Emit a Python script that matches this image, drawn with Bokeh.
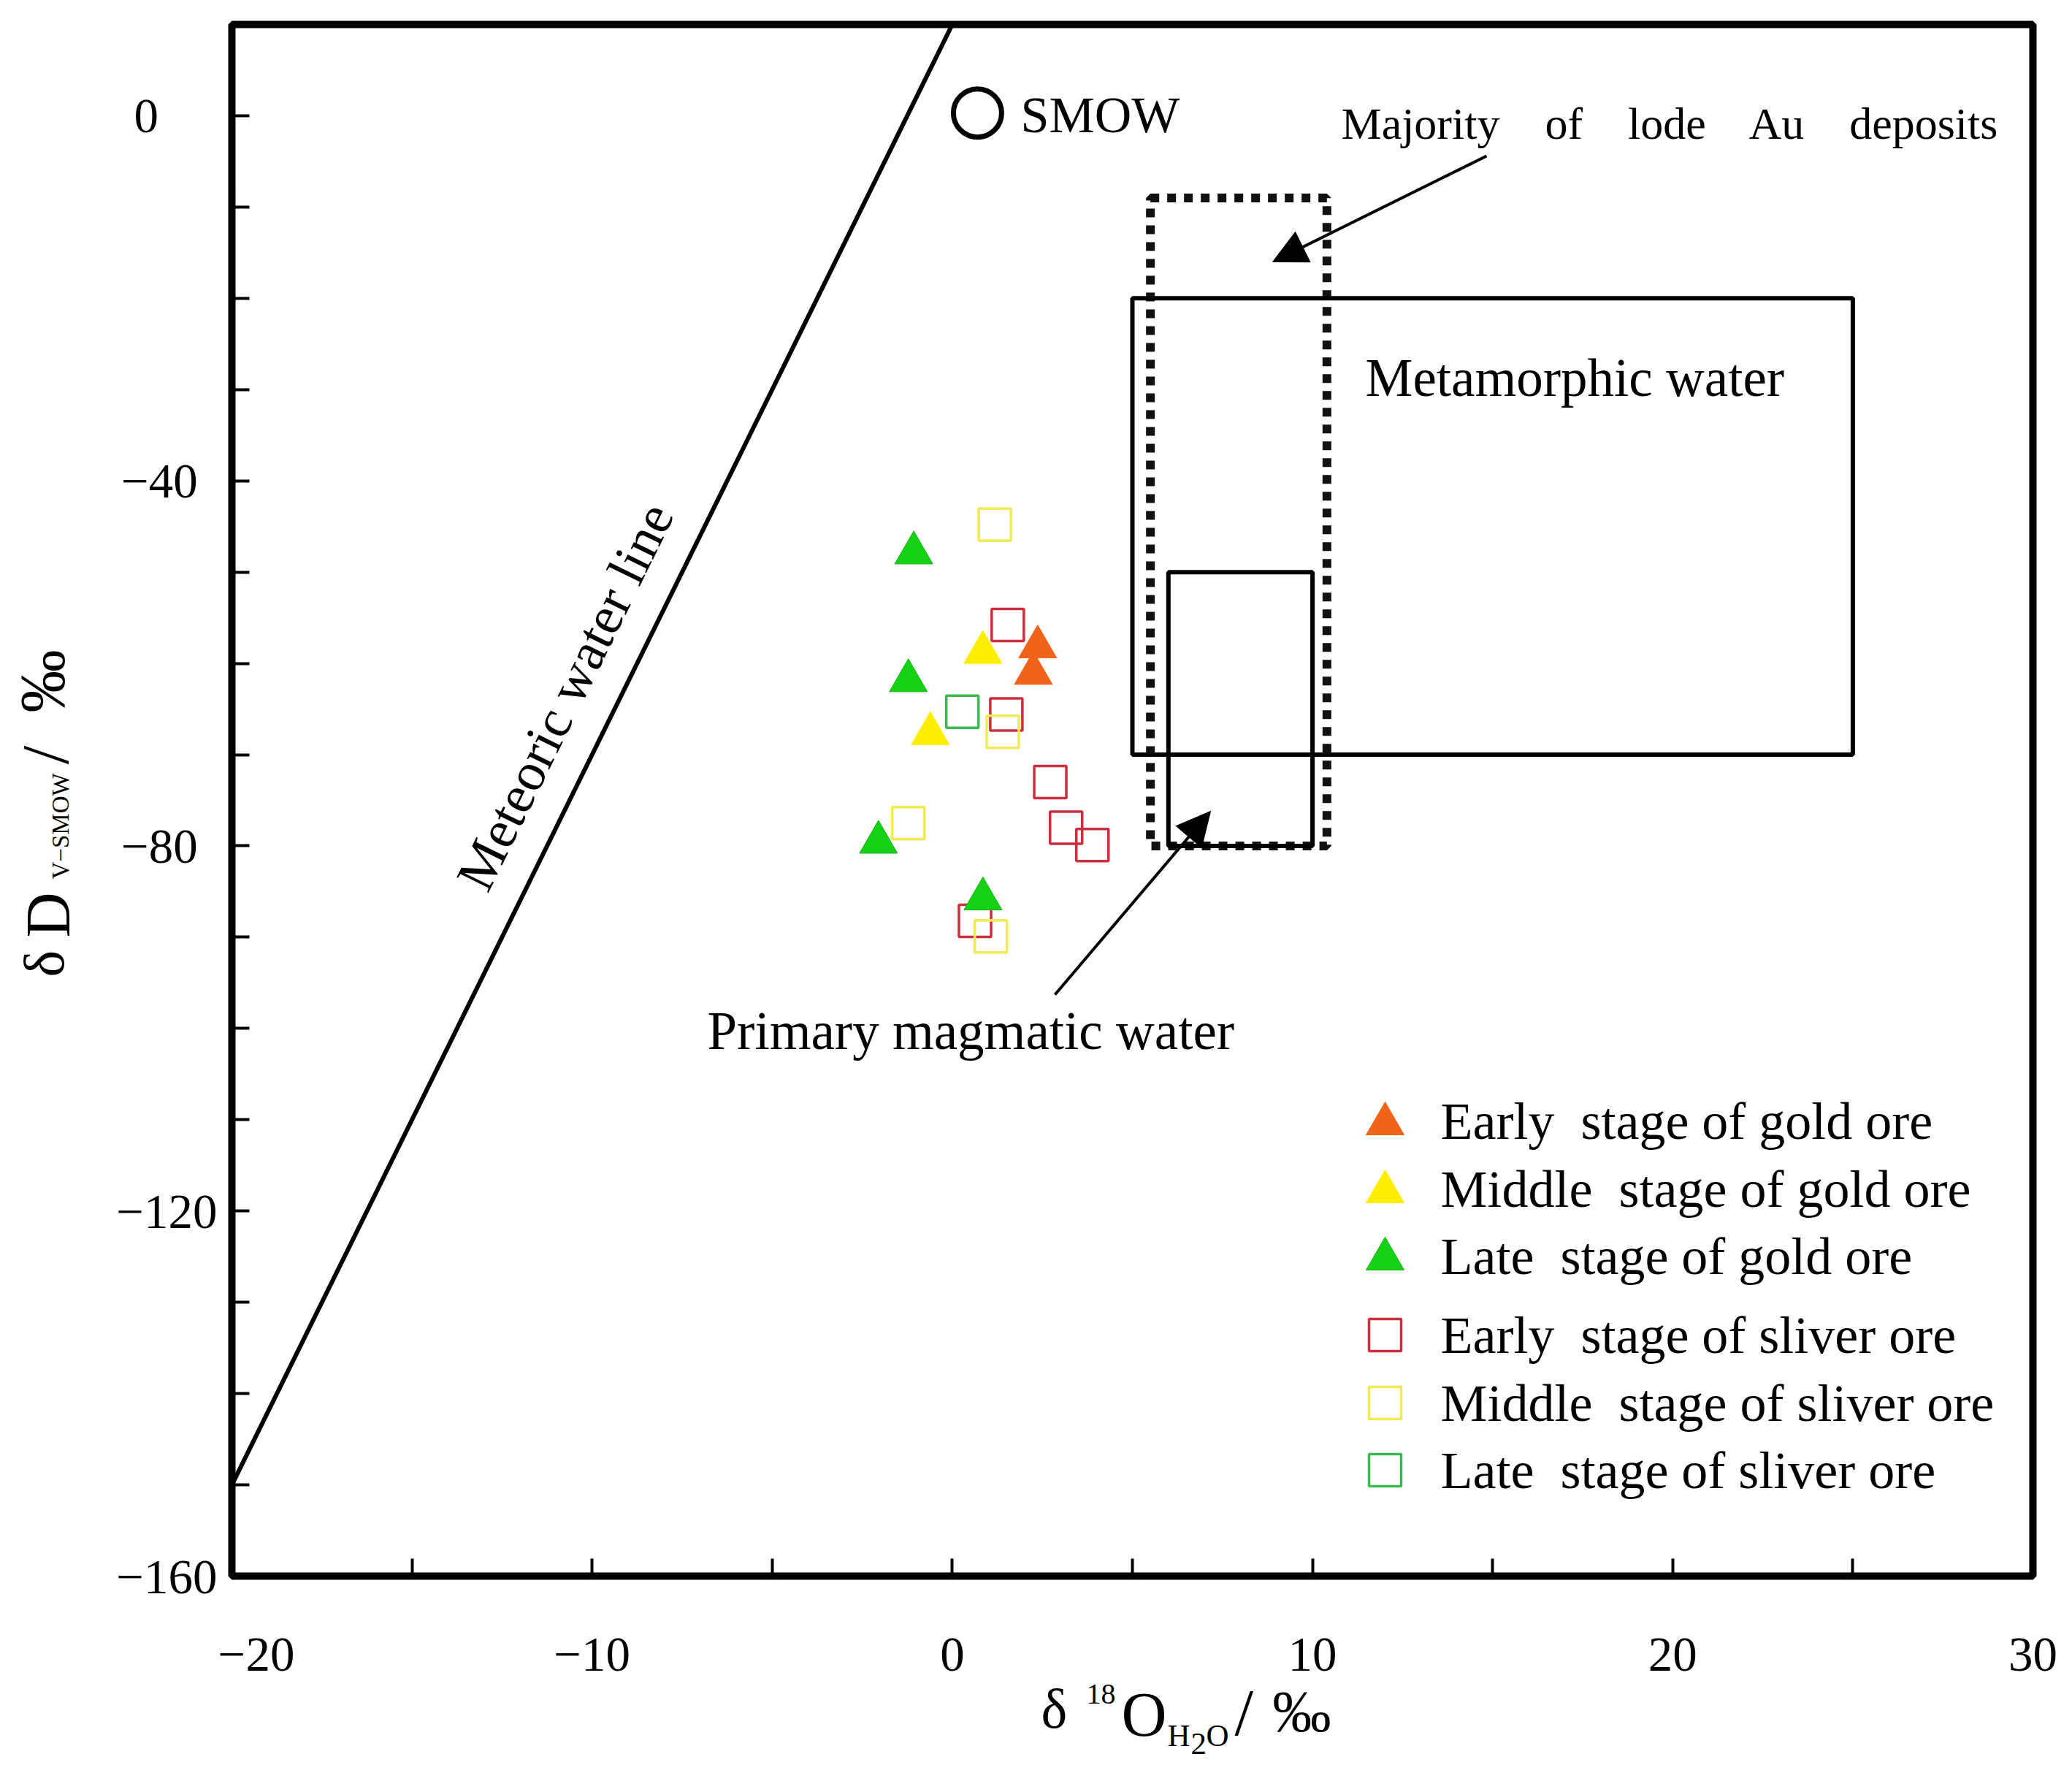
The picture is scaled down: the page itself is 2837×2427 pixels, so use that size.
import math
from bokeh.plotting import figure
from bokeh.models import Label, Arrow, NormalHead, FixedTicker
from bokeh.embed import file_html
from bokeh.resources import INLINE

FONT = "Liberation Serif"

# ---------------- data ----------------
gold_early_x = [2.37, 2.25]
gold_early_y = [-58.2, -61.1]
gold_middle_x = [0.85, -0.61]
gold_middle_y = [-58.8, -67.7]
gold_late_x = [-1.07, -1.22, -2.05, 0.85]
gold_late_y = [-47.9, -61.9, -79.6, -85.8]

silver_early_x = [1.54, 1.50, 2.72, 3.16, 3.89, 0.63]
silver_early_y = [-55.8, -65.6, -73.0, -78.0, -79.9, -88.2]
silver_middle_x = [1.18, 1.40, -1.22, 1.07]
silver_middle_y = [-44.8, -67.5, -77.5, -89.9]
silver_late_x = [0.28]
silver_late_y = [-65.3]

smow_x = [0.7]
smow_y = [0.3]

mwl_x = [-20, 0]
mwl_y = [-150, 10]

metamorphic_box = [5, 25, -70, -20]     # left, right, bottom, top
magmatic_box = [6, 10, -80, -50]
lode_au_box = [5.5, 10.4, -80, -9]

FS = "\u2007"   # figure space (used only to mimic the reference's label placement)
TS = "\u2009"   # thin space
x_ticks = [-20, -15, -10, -5, 0, 5, 10, 15, 20, 25, 30]
x_tick_labels = [FS + FS + "\u221220", "", "\u221210", "", "0", "", "10", "", "20", "", "30"]
y_ticks = [-160, -150, -140, -130, -120, -110, -100, -90, -80, -70, -60, -50, -40, -30, -20, -10, 0]
y_tick_labels = ["\u2212160", "", "", "", "\u2212120", "", "", "", "\u221280" + TS + TS, "", "", "",
                 "\u221240" + TS + TS, "", "", "", "0" + FS + FS + TS]

legend_labels = ["Early\u00a0 stage of gold ore", "Middle\u00a0 stage of gold ore",
                 "Late\u00a0 stage of gold ore", "Early\u00a0 stage of sliver ore",
                 "Middle\u00a0 stage of sliver ore", "Late\u00a0 stage of sliver ore"]

# ---------------- layout (page pixels -> data) ----------------
W, H = 2829, 2419
FL, FT, FW, FH = 317, 33, 2466, 2124          # drawing box of the axes in page pixels
X0, X1, Y0, Y1 = -20, 30, -160, 10


def fx(px):
    return X0 + (px - FL) * (X1 - X0) / FW


def fy(py):
    return Y1 - (py - FT) * (Y1 - Y0) / FH


p = figure(frame_width=W, frame_height=H, x_range=(fx(0), fx(W)), y_range=(fy(H), fy(0)),
           output_backend="svg", toolbar_location=None, min_border=0,
           background_fill_color="white", border_fill_color="white")
p.title.visible = False
p.xgrid.visible = False
p.ygrid.visible = False
p.outline_line_color = None

for ax in (p.xaxis[0], p.yaxis[0]):
    ax.axis_line_color = None
    ax.major_tick_in = 24
    ax.major_tick_out = 0
    ax.minor_tick_line_color = None
    ax.major_tick_line_width = 4
    ax.major_tick_line_color = "black"
    ax.major_label_text_font = FONT
    ax.major_label_text_font_size = "67px"
    ax.major_label_text_color = "black"

p.xaxis.fixed_location = Y0
p.xaxis.bounds = (X0, X1)
p.xaxis.ticker = FixedTicker(ticks=x_ticks)
p.xaxis.major_label_overrides = {t: l for t, l in zip(x_ticks, x_tick_labels)}
p.xaxis.major_label_standoff = 69

p.yaxis.fixed_location = X0
p.yaxis.bounds = (Y0, Y1)
p.yaxis.ticker = FixedTicker(ticks=y_ticks)
p.yaxis.major_label_overrides = {t: l for t, l in zip(y_ticks, y_tick_labels)}
p.yaxis.major_label_standoff = 20

# plot border (axes box)
p.quad(left=[X0], right=[X1], bottom=[Y0], top=[Y1], fill_color=None,
       line_color="black", line_width=10)

# boxes
p.quad(left=[lode_au_box[0]], right=[lode_au_box[1]], bottom=[lode_au_box[2]], top=[lode_au_box[3]],
       fill_color=None, line_color="#111111", line_width=12, line_dash="12 11")
p.quad(left=[metamorphic_box[0]], right=[metamorphic_box[1]], bottom=[metamorphic_box[2]],
       top=[metamorphic_box[3]], fill_color=None, line_color="black", line_width=6)
p.quad(left=[magmatic_box[0]], right=[magmatic_box[1]], bottom=[magmatic_box[2]],
       top=[magmatic_box[3]], fill_color=None, line_color="black", line_width=6)

# meteoric water line
p.line(mwl_x, mwl_y, line_color="black", line_width=6)

# SMOW
p.scatter(smow_x, smow_y, marker="circle", size=66, fill_color=None, line_color="black", line_width=7)

# data points
C_OR, C_YE, C_GR = "#F0641A", "#FFEE00", "#16D216"
S_RE, S_YE, S_GR = "#C8303E", "#F0EA55", "#3CBA52"
TRI = 52
SQ = 44
p.scatter(silver_early_x, silver_early_y, marker="square", size=SQ, fill_color=None, line_color=S_RE, line_width=3.5)
p.scatter(silver_middle_x, silver_middle_y, marker="square", size=SQ, fill_color=None, line_color=S_YE, line_width=3.5)
p.scatter(silver_late_x, silver_late_y, marker="square", size=SQ, fill_color=None, line_color=S_GR, line_width=3.5)
p.scatter(gold_early_x, gold_early_y, marker="triangle", size=TRI, fill_color=C_OR, line_color=C_OR)
p.scatter(gold_middle_x, gold_middle_y, marker="triangle", size=TRI, fill_color=C_YE, line_color=C_YE)
p.scatter(gold_late_x, gold_late_y, marker="triangle", size=TRI, fill_color=C_GR, line_color="#10B010")


def lab(px, py, text, size, angle=0.0, align="left", baseline="middle"):
    p.add_layout(Label(x=fx(px), y=fy(py), text=text, text_font=FONT, text_font_size=f"{size}px",
                       text_baseline=baseline, text_align=align, angle=angle, text_color="black"))


# legend (manual)
leg_rows_py = [1534, 1627, 1719, 1827, 1920, 2012]
leg_markers = ["triangle", "triangle", "triangle", "square", "square", "square"]
leg_fill = [C_OR, C_YE, C_GR, None, None, None]
leg_line = [C_OR, C_YE, "#10B010", S_RE, S_YE, S_GR]
for i, text in enumerate(legend_labels):
    if leg_markers[i] == "triangle":
        p.scatter([fx(1896)], [fy(leg_rows_py[i] + 4)], marker="triangle", size=TRI,
                  fill_color=leg_fill[i], line_color=leg_line[i])
    else:
        p.scatter([fx(1896)], [fy(leg_rows_py[i])], marker="square", size=SQ, fill_color=None,
                  line_color=leg_line[i], line_width=3.5)
    lab(1972, leg_rows_py[i], text, 72)

# arrows
head = dict(size=46, fill_color="black", line_color="black")
p.add_layout(Arrow(end=NormalHead(**head), x_start=fx(2035), y_start=fy(213),
                   x_end=fx(1742), y_end=fy(358), line_width=4, line_color="black"))
p.add_layout(Arrow(end=NormalHead(**head), x_start=fx(1444), y_start=fy(1361),
                   x_end=fx(1657), y_end=fy(1110), line_width=4, line_color="black"))

# annotations
lab(1397, 157, "SMOW", 70)
lab(1836, 168, "Majority\u00a0\u00a0\u00a0 of\u00a0\u00a0\u00a0 lode\u00a0\u00a0\u00a0 Au\u00a0\u00a0\u00a0 deposits", 62)
lab(1869, 517, "Metamorphic water", 73)
lab(968, 1411, "Primary magmatic water", 73)
ang = math.atan(8 * (FH / (Y1 - Y0)) / (FW / (X1 - X0)))
lab(773, 953, "Meteoric water line", 74, angle=ang, align="center")

# x-axis title pieces
lab(1425, 2338, "\u03b4", 76)
lab(1487, 2318, "18", 40)
lab(1535, 2346, "O", 86)
lab(1598, 2375, "H", 43)
lab(1630, 2386, "2", 43)
lab(1651, 2375, "O", 43)
lab(1690, 2343, "/", 92)
lab(1742, 2342, "\u2030", 80)

# y-axis title pieces (rotated, reading upward)
R = math.pi / 2
lab(60, 1337, "\u03b4", 78, angle=R)
lab(65, 1283, "D", 86, angle=R)
lab(82, 1203, "V\u2212SMOW", 33, angle=R)
lab(61, 1033, "/", 92, angle=R, align="center")
lab(57, 932, "\u2030", 86, angle=R, align="center")

open("out.html", "w").write(file_html(p, INLINE))
